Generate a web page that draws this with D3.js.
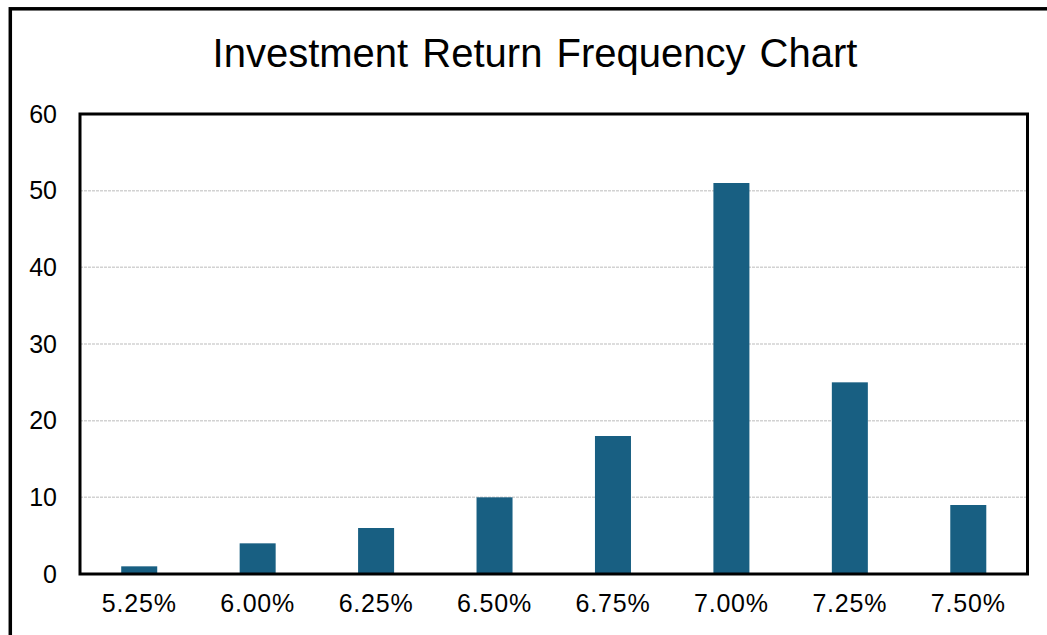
<!DOCTYPE html>
<html>
<head>
<meta charset="utf-8">
<script src="https://cdn.jsdelivr.net/npm/d3@7"></script>
<style>
  html, body { margin: 0; padding: 0; background: #ffffff; }
  svg { display: block; }
</style>
</head>
<body>
<svg id="chart" width="1047" height="635"></svg>
<script>
const categories = ["5.25%", "6.00%", "6.25%", "6.50%", "6.75%", "7.00%", "7.25%", "7.50%"];
const frequencies = [1, 4, 6, 10, 18, 51, 25, 9];
const yTicks = [0, 10, 20, 30, 40, 50, 60];
const titleText = "Investment Return Frequency Chart";

const svg = d3.select("#chart");
const font = "'Liberation Sans', Arial, sans-serif";

const plot = { left: 80, right: 1027.5, top: 114, bottom: 574 };

// outer frame (extends beyond the viewport on right and bottom)
svg.append("rect")
  .attr("x", 10.3).attr("y", 8.8)
  .attr("width", 1100).attr("height", 700)
  .attr("fill", "none").attr("stroke", "#000").attr("stroke-width", 3.5);

// title
svg.append("text")
  .attr("x", 535).attr("y", 67)
  .attr("text-anchor", "middle")
  .attr("font-family", font).attr("font-size", 40)
  .attr("word-spacing", 3)
  .attr("fill", "#000")
  .text(titleText);

const x = d3.scaleBand()
  .domain(categories)
  .range([plot.left, plot.right])
  .paddingInner(0.696)
  .paddingOuter(0.348);

const y = d3.scaleLinear().domain([0, 60]).range([plot.bottom, plot.top]);

// gridlines
svg.append("g")
  .selectAll("line")
  .data(yTicks.filter(t => t > 0 && t < 60))
  .join("line")
  .attr("x1", plot.left).attr("x2", plot.right)
  .attr("y1", d => y(d)).attr("y2", d => y(d))
  .attr("stroke", "#d2d2d2").attr("stroke-width", 1.5)
  .attr("stroke-dasharray", "3,1");

// bars
svg.append("g")
  .selectAll("rect")
  .data(frequencies)
  .join("rect")
  .attr("x", (d, i) => x(categories[i]))
  .attr("width", x.bandwidth())
  .attr("y", d => y(d))
  .attr("height", d => y(0) - y(d))
  .attr("fill", "#185f82");

// plot border
svg.append("rect")
  .attr("x", plot.left).attr("y", plot.top)
  .attr("width", plot.right - plot.left).attr("height", plot.bottom - plot.top)
  .attr("fill", "none").attr("stroke", "#000").attr("stroke-width", 3);

// y axis labels
const yAxis = d3.axisLeft(y).tickValues(yTicks).tickSize(0).tickPadding(23);
const gy = svg.append("g").attr("transform", `translate(${plot.left},0)`).call(yAxis);
gy.select(".domain").remove();
gy.selectAll("text")
  .attr("font-family", font).attr("font-size", 25).attr("fill", "#000")
  .attr("dy", "0.33em");

// x axis labels
const xAxis = d3.axisBottom(x).tickSize(0).tickPadding(20);
const gx = svg.append("g").attr("transform", `translate(0,${plot.bottom})`).call(xAxis);
gx.select(".domain").remove();
gx.selectAll("text")
  .attr("font-family", font).attr("font-size", 25).attr("fill", "#000")
  .attr("letter-spacing", 0.8);
</script>
</body>
</html>
